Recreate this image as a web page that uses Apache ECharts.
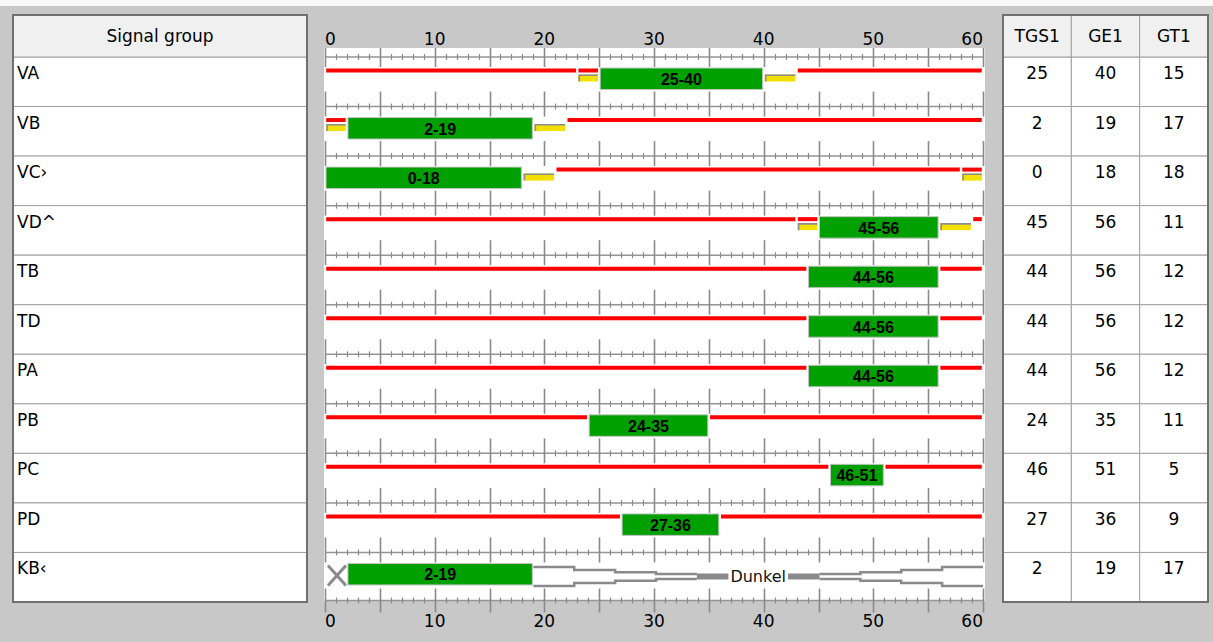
<!DOCTYPE html>
<html><head><meta charset="utf-8">
<script src="https://cdn.jsdelivr.net/npm/echarts@6/dist/echarts.min.js"></script>
<style>html,body{margin:0;padding:0;background:#c8c8c8;}#c{width:1213px;height:642px;}</style>
</head><body><div id="c"></div>
<script>
// ---------- data ----------
const groups = ['VA','VB','VC›','VD^','TB','TD','PA','PB','PC','PD','KB‹'];
const greenStart = [25, 2, 0, 45, 44, 44, 44, 24, 46, 27, 2];
const greenEnd   = [40, 19, 18, 56, 56, 56, 56, 35, 51, 36, 19];
const redPhases = [
  [[0,23],[43,60]],
  [[22,60]],
  [[21,58]],
  [[0,43],[59,60]],
  [[0,44],[56,60]],
  [[0,44],[56,60]],
  [[0,44],[56,60]],
  [[0,24],[35,60]],
  [[0,46],[51,60]],
  [[0,27],[36,60]],
  []
];
const redYellowPhases = [[23,25],[0,2],[58,60],[43,45],null,null,null,null,null,null,null];
const yellowPhases    = [[40,43],[19,22],[18,21],[56,59],null,null,null,null,null,null,null];
const offPhases  = [null,null,null,null,null,null,null,null,null,null,[0,2]];
const darkPhases = [null,null,null,null,null,null,null,null,null,null,[19,60]];
const darkLabel = 'Dunkel';
const leftHeader = 'Signal group';
const tableColumns = ['TGS1','GE1','GT1'];
const colTGS1 = [25, 2, 0, 45, 44, 44, 44, 24, 46, 27, 2];
const colGE1  = [40, 19, 18, 56, 56, 56, 56, 35, 51, 36, 19];
const colGT1  = [15, 17, 18, 11, 12, 12, 12, 11, 5, 9, 17];
const timeMin = 0, timeMax = 60, timeStep = 10;

// ---------- build ----------
const FONT = '"DejaVu Sans", sans-serif';
const GRID_STROKE = '#a0a0a0';
const OUTER_STROKE = '#707070';
const HEADER_H = 42;
const tableCols = [colTGS1, colGE1, colGT1];

const phaseData = [];
groups.forEach((g, i) => {
  redPhases[i].forEach(p => phaseData.push([p[0], p[1], i, 0]));
  if (redYellowPhases[i]) phaseData.push([redYellowPhases[i][0], redYellowPhases[i][1], i, 1]);
  if (yellowPhases[i]) phaseData.push([yellowPhases[i][0], yellowPhases[i][1], i, 3]);
  if (offPhases[i]) phaseData.push([offPhases[i][0], offPhases[i][1], i, 4]);
  if (darkPhases[i]) phaseData.push([darkPhases[i][0], darkPhases[i][1], i, 5]);
  phaseData.push([greenStart[i], greenEnd[i], i, 2]);
});

const rightData = [];
tableCols.forEach((col, j) => col.forEach((v, i) => rightData.push([j, i, v])));

function bandTop(api, x, r) {
  const c = api.coord([x, r]);
  const h = api.size([0, 1])[1];
  return [c[0], c[1] - h / 2, h];
}

function renderTimelineBg(params, api) {
  const cs = params.coordSys;
  return {type: 'rect', shape: {x: cs.x - 1, y: cs.y - 9, width: cs.width + 3, height: cs.height + 8},
          style: {fill: '#ffffff'}};
}

function renderRuler(params, api) {
  const r = api.value(1);
  const [, T, h] = bandTop(api, 0, r);
  const ch = [];
  function ruler(y, kind) {
    const xa = api.coord([timeMin, r])[0], xb = api.coord([timeMax, r])[0];
    ch.push({type: 'line', shape: {x1: xa, y1: y, x2: xb, y2: y}, style: {stroke: '#959595', lineWidth: 1.5}});
    for (let k = timeMin; k <= timeMax; k++) {
      const x = Math.round(api.coord([k, r])[0]) + 0.5;
      if (k % 5 === 0) {
        const up = kind === 'first' ? 9 : (kind === 'last' ? 12 : 15);
        const dn = kind === 'last' ? 12 : 10;
        ch.push({type: 'line', shape: {x1: x, y1: y - up, x2: x, y2: y + dn}, style: {stroke: '#8a8a8a', lineWidth: 1.6}});
      } else {
        ch.push({type: 'line', shape: {x1: x, y1: y - 3, x2: x, y2: y + 3}, style: {stroke: '#8a8a8a', lineWidth: 1.2}});
      }
    }
  }
  ruler(T, r === 0 ? 'first' : 'mid');
  if (r === groups.length - 1) ruler(T + h - 1.5, 'last');
  return {type: 'group', children: ch};
}

function renderPhase(params, api) {
  const s = api.value(0), e = api.value(1), r = api.value(2), t = api.value(3);
  const [x0, T, h] = bandTop(api, s, r);
  const x1 = api.coord([e, r])[0];
  const ch = [];
  if (t === 0 || t === 1) {
    ch.push({type: 'rect', shape: {x: x0 + 1.2, y: T + 11.5, width: x1 - x0 - 2.4, height: 4}, style: {fill: '#ff0000'}});
  }
  if (t === 1 || t === 3) {
    ch.push({type: 'rect', shape: {x: x0 + 1.2, y: T + 17.5, width: x1 - x0 - 2.4, height: 7}, style: {fill: '#f2e000'}});
    ch.push({type: 'polyline', shape: {points: [[x0 + 2, T + 24.5], [x0 + 2, T + 18.2], [x1 - 1.2, T + 18.2]]},
             style: {stroke: '#8c8c8c', lineWidth: 1.6, fill: null}});
  }
  if (t === 2) {
    ch.push({type: 'rect', shape: {x: x0 + 1, y: T + 11, width: x1 - x0 - 2, height: 21.5},
             style: {fill: '#00a000', stroke: '#c4c4c4', lineWidth: 1}});
    ch.push({type: 'text', style: {text: s + '-' + e, x: (x0 + x1) / 2, y: T + 22.5, align: 'center', verticalAlign: 'middle',
             fontFamily: '"Liberation Sans", Arial, sans-serif', fontWeight: 'bold', fontSize: 16, fill: '#000'}});
  }
  if (t === 4) {
    ch.push({type: 'line', shape: {x1: x0 + 3, y1: T + 13, x2: x1 - 1, y2: T + 33}, style: {stroke: '#8a8a8a', lineWidth: 3}});
    ch.push({type: 'line', shape: {x1: x0 + 3, y1: T + 33, x2: x1 - 1, y2: T + 13}, style: {stroke: '#8a8a8a', lineWidth: 3}});
  }
  if (t === 5) {
    const seg = (e - s) / 11;
    const cy = T + 24;
    const hh = [9.5, 6.5, 4.3, 2.5];
    const X = v => api.coord([v, r])[0];
    const topL = [], botL = [], topR = [], botR = [];
    for (let k = 0; k < 4; k++) {
      topL.push([X(s + k * seg), cy - hh[k]], [X(s + (k + 1) * seg), cy - hh[k]]);
      botL.push([X(s + k * seg), cy + hh[k]], [X(s + (k + 1) * seg), cy + hh[k]]);
      const kr = 3 - k;
      topR.push([X(e - (kr + 1) * seg), cy - hh[kr]], [X(e - kr * seg), cy - hh[kr]]);
      botR.push([X(e - (kr + 1) * seg), cy + hh[kr]], [X(e - kr * seg), cy + hh[kr]]);
    }
    [topL, botL, topR, botR].forEach(pts => ch.push({type: 'polyline', shape: {points: pts},
      style: {stroke: '#8a8a8a', lineWidth: 2.5, fill: null}}));
    ch.push({type: 'rect', shape: {x: X(s + 4 * seg), y: cy - 3, width: X(s + 7 * seg) - X(s + 4 * seg), height: 6},
             style: {fill: '#8a8a8a'}});
    ch.push({type: 'text', style: {text: darkLabel, x: X((s + e) / 2), y: cy, align: 'center', verticalAlign: 'middle',
             fontFamily: FONT, fontSize: 16, fill: '#111', backgroundColor: '#fff', padding: [1, 2]}});
  }
  return {type: 'group', children: ch};
}

function renderLeftHeader(params, api) {
  const cs = params.coordSys;
  return {type: 'group', children: [
    {type: 'rect', shape: {x: cs.x, y: cs.y - HEADER_H, width: cs.width, height: HEADER_H},
     style: {fill: '#f0f0f0', stroke: GRID_STROKE, lineWidth: 1}},
    {type: 'text', style: {text: leftHeader, x: cs.x + cs.width / 2, y: cs.y - HEADER_H / 2, align: 'center', verticalAlign: 'middle',
     fontFamily: FONT, fontSize: 17, fill: '#000'}},
    {type: 'rect', shape: {x: cs.x, y: cs.y - HEADER_H, width: cs.width, height: cs.height + HEADER_H},
     style: {fill: null, stroke: OUTER_STROKE, lineWidth: 2}, z2: 10}
  ]};
}

function renderLeftBody(params, api) {
  const r = api.value(1);
  const [xa, T, h] = bandTop(api, 0, r);
  const xb = api.coord([1, r])[0];
  return {type: 'group', children: [
    {type: 'rect', shape: {x: xa, y: T, width: xb - xa, height: h}, style: {fill: '#fff', stroke: GRID_STROKE, lineWidth: 1}},
    {type: 'text', style: {text: groups[r], x: xa + 4, y: T + 16, align: 'left', verticalAlign: 'middle',
     fontFamily: FONT, fontSize: 17, fill: '#000'}}
  ]};
}

function renderRightHeader(params, api) {
  const cs = params.coordSys;
  const j = api.value(0);
  const cx = api.coord([j, 0])[0];
  const w = api.size([1, 0])[0];
  const ch = [
    {type: 'rect', shape: {x: cx - w / 2, y: cs.y - HEADER_H, width: w, height: HEADER_H},
     style: {fill: '#f0f0f0', stroke: GRID_STROKE, lineWidth: 1}},
    {type: 'text', style: {text: tableColumns[j], x: cx, y: cs.y - HEADER_H / 2, align: 'center', verticalAlign: 'middle',
     fontFamily: FONT, fontSize: 17, fill: '#000'}}
  ];
  if (j === 0) ch.push({type: 'rect', shape: {x: cs.x, y: cs.y - HEADER_H, width: cs.width, height: cs.height + HEADER_H},
     style: {fill: null, stroke: OUTER_STROKE, lineWidth: 2}, z2: 10});
  return {type: 'group', children: ch};
}

function renderRightBody(params, api) {
  const j = api.value(0), r = api.value(1), v = api.value(2);
  const c = api.coord([j, r]);
  const w = api.size([1, 0])[0];
  const h = api.size([0, 1])[1];
  const T = c[1] - h / 2;
  return {type: 'group', children: [
    {type: 'rect', shape: {x: c[0] - w / 2, y: T, width: w, height: h}, style: {fill: '#fff', stroke: GRID_STROKE, lineWidth: 1}},
    {type: 'text', style: {text: String(v), x: c[0], y: T + 16, align: 'center', verticalAlign: 'middle',
     fontFamily: FONT, fontSize: 17, fill: '#000'}}
  ]};
}

const axisLabelStyle = {fontFamily: FONT, fontSize: 17, color: '#000', margin: 10, alignMinLabel: 'left', alignMaxLabel: 'right'};
const catY = idx => ({type: 'category', data: groups, inverse: true, gridIndex: idx, show: false, boundaryGap: true});

const option = {
  backgroundColor: '#c8c8c8',
  animation: false,
  graphic: [{type: 'rect', shape: {x: 0, y: 0, width: 1213, height: 6}, style: {fill: '#f9f9f9'}, silent: true}],
  grid: [
    {left: 13, top: 57, width: 294, height: 545},
    {left: 325, top: 57, width: 658, height: 545},
    {left: 1003, top: 57, width: 205, height: 545}
  ],
  xAxis: [
    {type: 'value', gridIndex: 0, min: 0, max: 1, show: false},
    {type: 'value', gridIndex: 1, min: timeMin, max: timeMax, interval: timeStep, position: 'top',
     axisLine: {show: false}, axisTick: {show: false}, splitLine: {show: false}, axisLabel: axisLabelStyle},
    {type: 'value', gridIndex: 1, min: timeMin, max: timeMax, interval: timeStep, position: 'bottom',
     axisLine: {show: false}, axisTick: {show: false}, splitLine: {show: false}, axisLabel: axisLabelStyle},
    {type: 'category', gridIndex: 2, data: tableColumns, show: false, boundaryGap: true}
  ],
  yAxis: [catY(0), catY(1), catY(2)],
  series: [
    {type: 'custom', xAxisIndex: 1, yAxisIndex: 1, data: [[0, 0]], renderItem: renderTimelineBg, clip: false, silent: true, z: 1},
    {type: 'custom', xAxisIndex: 1, yAxisIndex: 1, data: groups.map((g, i) => [0, i]), renderItem: renderRuler,
     encode: {x: 0, y: 1}, clip: false, silent: true, z: 2},
    {type: 'custom', xAxisIndex: 1, yAxisIndex: 1, data: phaseData, renderItem: renderPhase,
     dimensions: ['start', 'end', 'row', 'kind'], encode: {x: [0, 1], y: 2}, clip: false, silent: true, z: 3},
    {type: 'custom', xAxisIndex: 0, yAxisIndex: 0, data: groups.map((g, i) => [0, i]), renderItem: renderLeftBody,
     encode: {x: 0, y: 1}, clip: false, silent: true, z: 2},
    {type: 'custom', xAxisIndex: 0, yAxisIndex: 0, data: [[0, 0]], renderItem: renderLeftHeader, clip: false, silent: true, z: 4},
    {type: 'custom', xAxisIndex: 3, yAxisIndex: 2, data: rightData, renderItem: renderRightBody,
     encode: {x: 0, y: 1}, clip: false, silent: true, z: 2},
    {type: 'custom', xAxisIndex: 3, yAxisIndex: 2, data: tableColumns.map((c, j) => [j, 0]), renderItem: renderRightHeader,
     encode: {x: 0, y: 1}, clip: false, silent: true, z: 4}
  ]
};
const chart = echarts.init(document.getElementById('c'), null, {renderer: 'svg', width: 1213, height: 642});
chart.setOption(option);
</script>
</body></html>
